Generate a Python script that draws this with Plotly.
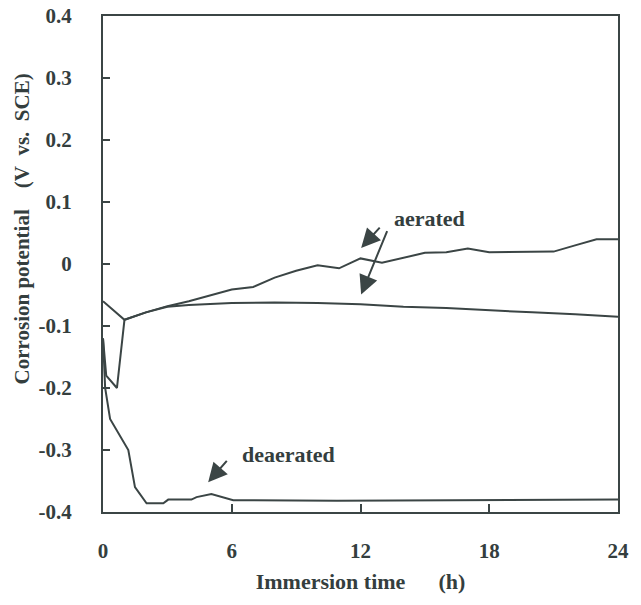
import plotly.graph_objects as go

# ---- data ----
aer1_time = [0, 0.15, 0.65, 1, 2, 3, 4, 5, 6, 7, 8, 9, 10, 11, 12, 13, 14, 15, 16, 17, 18, 19, 20, 21, 22, 23, 24]
aer1_pot = [-0.12, -0.18, -0.20, -0.09, -0.078, -0.068, -0.060, -0.050, -0.041, -0.037, -0.022, -0.011, -0.002,
            -0.007, 0.009, 0.002, 0.010, 0.018, 0.019, 0.025, 0.019, 0.019, 0.019, 0.020, 0.030, 0.040, 0.040]

aer2_time = [0, 1, 2, 3, 4, 6, 8, 9, 10, 12, 14, 16, 18, 20, 22, 24]
aer2_pot = [-0.06, -0.09, -0.078, -0.069, -0.066, -0.063, -0.062, -0.062, -0.063, -0.065, -0.069, -0.071,
            -0.075, -0.078, -0.081, -0.085]

deaer_time = [0, 0.1, 0.33, 1.18, 1.49, 2.03, 2.81, 3.04, 4.12, 4.36, 5.05, 5.6, 6.07, 10.9, 24]
deaer_pot = [-0.12, -0.20, -0.25, -0.30, -0.36, -0.386, -0.386, -0.380, -0.380, -0.376, -0.371, -0.376,
             -0.381, -0.382, -0.380]

x_ticks = [0, 6, 12, 18, 24]
y_ticks = [-0.4, -0.3, -0.2, -0.1, 0, 0.1, 0.2, 0.3, 0.4]
y_tick_text = ["-0.4", "-0.3", "-0.2", "-0.1", "0", "0.1", "0.2", "0.3", "0.4"]

LINE = "#3b4545"
TEXT = "#343e3e"
FONT = "Liberation Serif"
FS = 21

fig = go.Figure()
for t, v in [(aer1_time, aer1_pot), (aer2_time, aer2_pot), (deaer_time, deaer_pot)]:
    fig.add_trace(go.Scatter(x=t, y=v, mode="lines", line=dict(color=LINE, width=2),
                             showlegend=False, hoverinfo="skip"))

def arrow(x_tail, y_tail, x_tip, y_tip):
    fig.add_annotation(x=x_tip, y=y_tip, ax=x_tail, ay=y_tail, xref="x", yref="y",
                       axref="x", ayref="y", text="", showarrow=True, arrowhead=2,
                       arrowsize=1.9, arrowwidth=2, arrowcolor=LINE)

arrow(12.96, 0.061, 12.03, 0.026)
arrow(13.27, 0.0555, 12.03, -0.049)
arrow(5.83, -0.315, 4.9, -0.352)

fig.add_annotation(x=15.2, y=0.073, xref="x", yref="y", text="<b>aerated</b>", showarrow=False,
                   font=dict(family=FONT, size=22, color=TEXT))
fig.add_annotation(x=8.64, y=-0.307, xref="x", yref="y", text="<b>deaerated</b>", showarrow=False,
                   font=dict(family=FONT, size=22, color=TEXT))

# y-axis title (placed as rotated text, centred where the reference puts it)
fig.add_annotation(x=-0.157, y=0.57, xref="paper", yref="paper", xanchor="center", yanchor="middle",
                   textangle=-90,
                   text="<b>Corrosion potential&nbsp;&nbsp;&nbsp;&nbsp;(V&nbsp;&nbsp;vs.&nbsp;&nbsp;SCE)</b>",
                   showarrow=False, font=dict(family=FONT, size=FS, color=TEXT))

fig.update_layout(
    width=641, height=605,
    margin=dict(l=103, r=23, t=16, b=93, autoexpand=False),
    paper_bgcolor="white", plot_bgcolor="white",
    font=dict(family=FONT, color=TEXT),
)
fig.update_xaxes(
    range=[0, 24], tickvals=x_ticks, ticktext=["<b>%d</b>" % v for v in x_ticks],
    ticks="inside", ticklen=8, tickwidth=1.5, tickcolor=LINE,
    showline=True, linecolor=LINE, linewidth=2, mirror=True, showgrid=False, zeroline=False,
    tickfont=dict(family=FONT, size=FS, color=TEXT), ticklabelstandoff=19,
    title=dict(text="<b>Immersion time&nbsp;&nbsp;&nbsp;&nbsp;&nbsp;&nbsp;(h)</b>",
               font=dict(family=FONT, size=22, color=TEXT), standoff=11),
)
fig.update_yaxes(
    range=[-0.4, 0.4], tickvals=y_ticks, ticktext=["<b>%s</b>" % s for s in y_tick_text],
    ticks="inside", ticklen=7, tickwidth=1.5, tickcolor=LINE,
    showline=True, linecolor=LINE, linewidth=2, mirror=True, showgrid=False, zeroline=False,
    tickfont=dict(family=FONT, size=FS, color=TEXT), ticklabelstandoff=25,
)

fig.write_html("out.html", config={"displayModeBar": False},
               post_script="document.body.style.margin='0';")
